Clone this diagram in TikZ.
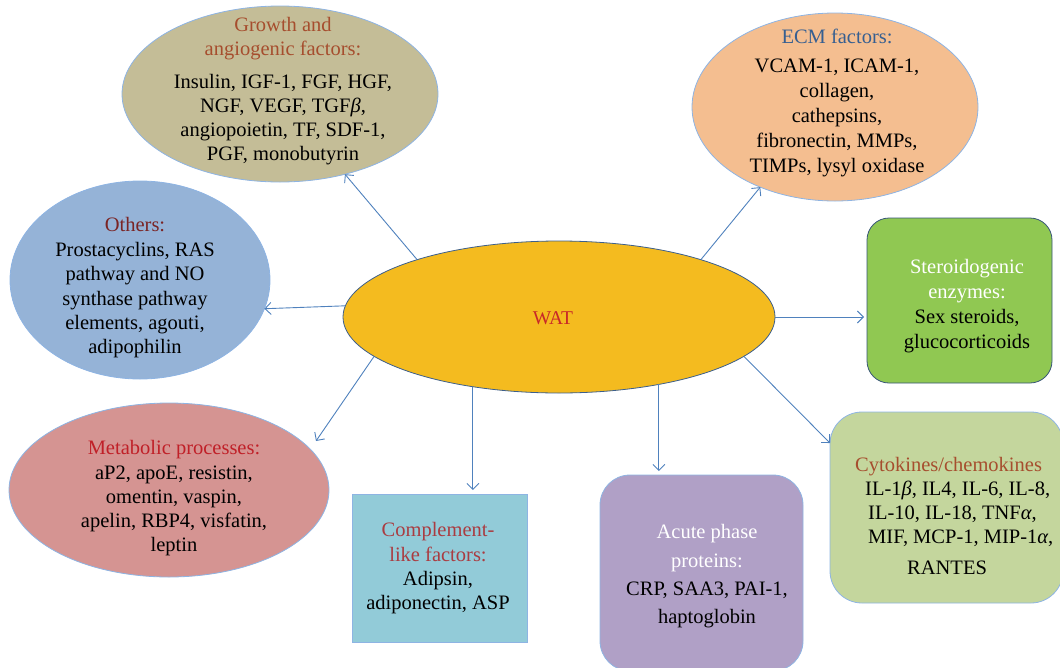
\documentclass[tikz,border=0pt]{standalone}
\usepackage{fontspec}
\setmainfont{Liberation Serif}
\usetikzlibrary{arrows.meta,calc,shapes.geometric}
\definecolor{edgeblue}{RGB}{142,180,227}
\definecolor{arrowblue}{RGB}{79,129,189}
\definecolor{watedge}{RGB}{60,95,140}
\definecolor{steredge}{RGB}{55,85,120}
\definecolor{growthfill}{RGB}{196,189,151}
\definecolor{ecmfill}{RGB}{244,190,144}
\definecolor{othersfill}{RGB}{149,179,215}
\definecolor{sterfill}{RGB}{144,200,82}
\definecolor{metabfill}{RGB}{213,148,146}
\definecolor{compfill}{RGB}{146,203,216}
\definecolor{acutefill}{RGB}{176,160,198}
\definecolor{cytofill}{RGB}{196,214,157}
\definecolor{watfill}{RGB}{244,187,31}
\definecolor{titlebrown}{RGB}{166,78,46}
\definecolor{titleblue}{RGB}{54,95,145}
\definecolor{titledark}{RGB}{122,36,36}
\definecolor{titlered}{RGB}{192,32,40}
\definecolor{titlerose}{RGB}{170,60,65}
\definecolor{watred}{RGB}{200,40,40}
\begin{document}
\begin{tikzpicture}[x=1pt,y=-1pt,
  shp/.style={draw=edgeblue, line width=0.8pt, inner sep=0pt, outer sep=0pt},
  ell/.style={shp, ellipse},
  box/.style={shp, rectangle},
  txt/.style={align=center, font=\fontsize{20.5}{24}\selectfont, inner sep=0pt, text=black},
  arr/.style={draw=arrowblue, line width=0.9pt, -{Straight Barb[length=6pt,width=12pt,line width=0.9pt]}}
]
\useasboundingbox (0,0) rectangle (1060,667);

% shapes
\node[ell, fill=growthfill, minimum width=316pt, minimum height=176pt] (growth) at (280,94) {};
\node[ell, fill=ecmfill, minimum width=286pt, minimum height=188pt] (ecm) at (835,107) {};
\node[ell, fill=othersfill, minimum width=260pt, minimum height=198pt] (others) at (140,280) {};
\node[ell, fill=metabfill, minimum width=320pt, minimum height=174pt] (metab) at (169,490) {};
\node[box, draw=steredge, fill=sterfill, rounded corners=22pt, minimum width=185pt, minimum height=165pt] (ster) at (959.5,300.5) {};
\node[box, fill=compfill, minimum width=175pt, minimum height=148pt] (comp) at (439.5,568) {};
\node[box, fill=acutefill, rounded corners=30pt, minimum width=203pt, minimum height=196pt] (acute) at (701.5,573) {};
\node[box, fill=cytofill, rounded corners=32pt, minimum width=233pt, minimum height=191pt] (cyto) at (946.5,507.5) {};
\node[ell, draw=watedge, fill=watfill, minimum width=432pt, minimum height=152pt] (wat) at (559,317) {};

% texts
\node[txt] (watT) at (553,318) {\fontsize{19.5}{24}\selectfont\color{watred}WAT};
\node[txt] (growthT) at (283,91.5) {{\color{titlebrown}Growth and}\\{\color{titlebrown}angiogenic factors:}\\[9pt]
  Insulin, IGF-1, FGF, HGF,\\NGF, VEGF, TGF\textit{β},\\angiopoietin, TF, SDF-1,\\PGF, monobutyrin};
\node[txt, font=\fontsize{20.5}{25}\selectfont] (ecmT) at (837,103) {{\color{titleblue}ECM factors:}\\[4pt]
  VCAM-1, ICAM-1,\\collagen,\\cathepsins,\\fibronectin, MMPs,\\TIMPs, lysyl oxidase};
\node[txt, font=\fontsize{20.5}{24.4}\selectfont] (othersT) at (135,288) {{\color{titledark}Others:}\\
  Prostacyclins, RAS\\pathway and NO\\synthase pathway\\elements, agouti,\\adipophilin};
\node[txt, font=\fontsize{20.5}{25}\selectfont] (sterT) at (967,306) {{\color{white}Steroidogenic}\\{\color{white}enzymes:}\\
  Sex steroids,\\glucocorticoids};
\node[txt, font=\fontsize{20.5}{24.25}\selectfont] (metabT) at (174,498.5) {{\color{titlered}Metabolic processes:}\\
  aP2, apoE, resistin,\\omentin, vaspin,\\apelin, RBP4, visfatin,\\leptin};
\node[txt, font=\fontsize{20.5}{24.3}\selectfont] (compT) at (438,568.5) {{\color{titlerose}Complement-}\\{\color{titlerose}like factors:}\\
  Adipsin,\\adiponectin, ASP};
\node[txt, font=\fontsize{20.5}{28.3}\selectfont] (acuteT) at (707,576.5) {{\color{white}Acute phase}\\{\color{white}proteins:}\\
  CRP, SAA3, PAI-1,\\haptoglobin};
\node[txt, align=left, anchor=west] (cytoT) at (855,515.5) {{\color{titlebrown}Cytokines/chemokines}\\
  \hspace*{10pt}IL-1\textit{β}, IL4, IL-6, IL-8,\\
  \hspace*{13pt}IL-10, IL-18, TNF\textit{α},\\
  \hspace*{13pt}MIF, MCP-1, MIP-1\textit{α},\\[7pt]
  \hspace*{52pt}RANTES};

% connectors
\draw[arr] (wat.158.4) -- (growth.309.2);
\draw[arr] (wat.22.9) -- (ecm.227.2);
\draw[arr] (wat.177.3) -- (others.347);
\draw[arr, shorten >=3pt] (wat.0.5) -- (wat.0.5 -| ster.west);
\draw[arr] (wat.192.3) -- ($(metab.center)+(147,-49)$);
\draw[arr, shorten >=4pt] (wat.219.8) -- (wat.219.8 |- comp.north);
\draw[arr, shorten >=4pt] (wat.326.8) -- (wat.326.8 |- acute.north);
\draw[arr] (wat.348.7) -- ($(cyto.north west)+(0,31)$);
\end{tikzpicture}
\end{document}
